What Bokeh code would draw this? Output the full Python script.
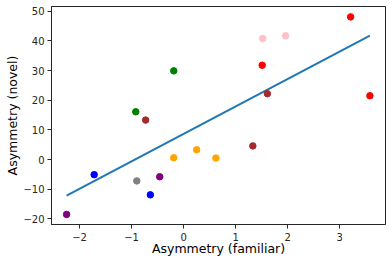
from bokeh.plotting import figure
from bokeh.models import Range1d, FixedTicker
from bokeh.embed import file_html
from bokeh.resources import INLINE

# data
x_vals = [-2.25, -1.72, -0.90, -0.64, -0.46, -0.92, -0.73, -0.19, -0.19, 0.25, 0.62, 1.33, 1.51, 1.52, 1.61, 1.96, 3.21, 3.58]
y_vals = [-18.5, -5.1, -7.2, -11.9, -5.8, 16.1, 13.3, 29.9, 0.6, 3.3, 0.5, 4.6, 31.8, 40.8, 22.2, 41.7, 48.1, 21.5]
colors = ["purple", "blue", "gray", "blue", "purple", "green", "brown", "green", "orange", "orange", "orange",
          "brown", "red", "pink", "brown", "pink", "red", "red"]
fit_x = [-2.25, 3.58]
fit_y = [-12.2, 41.8]
x_ticks = [-2, -1, 0, 1, 2, 3]
y_ticks = [-20, -10, 0, 10, 20, 30, 40, 50]

p = figure(width=392, height=263, output_backend="svg", toolbar_location=None,
           x_range=Range1d(-2.54, 3.88), y_range=Range1d(-21.9, 51.6),
           min_border_left=51, min_border_right=7, min_border_top=6, min_border_bottom=39,
           margin=0)
p.background_fill_color = "white"
p.border_fill_color = "white"
p.outline_line_color = "#262626"
p.outline_line_width = 1
p.grid.visible = False

p.line(fit_x, fit_y, line_color="#1f77b4", line_width=2)
p.scatter(x_vals, y_vals, size=6.5, fill_color=colors, line_color=colors)

for ax, ticks in ((p.xaxis[0], x_ticks), (p.yaxis[0], y_ticks)):
    ax.ticker = FixedTicker(ticks=ticks)
    ax.major_label_overrides = {t: str(t).replace("-", "\u2212") for t in ticks}
    ax.minor_tick_line_color = None
    ax.major_tick_in = 0
    ax.major_tick_out = 4
    ax.major_tick_line_color = "#262626"
    ax.axis_line_color = "#262626"
    ax.major_label_text_font = "DejaVu Sans"
    ax.major_label_text_font_size = "10px"
    ax.major_label_text_color = "#262626"
    ax.axis_label_text_font = "DejaVu Sans"
    ax.axis_label_text_font_size = "12.5px"
    ax.axis_label_text_font_style = "normal"
    ax.axis_label_text_color = "black"

p.xaxis.major_label_standoff = 4
p.xaxis.axis_label_standoff = -3
p.yaxis.major_label_standoff = 3
p.yaxis.axis_label_standoff = 0
p.xaxis.axis_label = "Asymmetry (familiar)"
p.yaxis.axis_label = "Asymmetry (novel)"

open("out.html", "w").write(file_html(p, INLINE))
